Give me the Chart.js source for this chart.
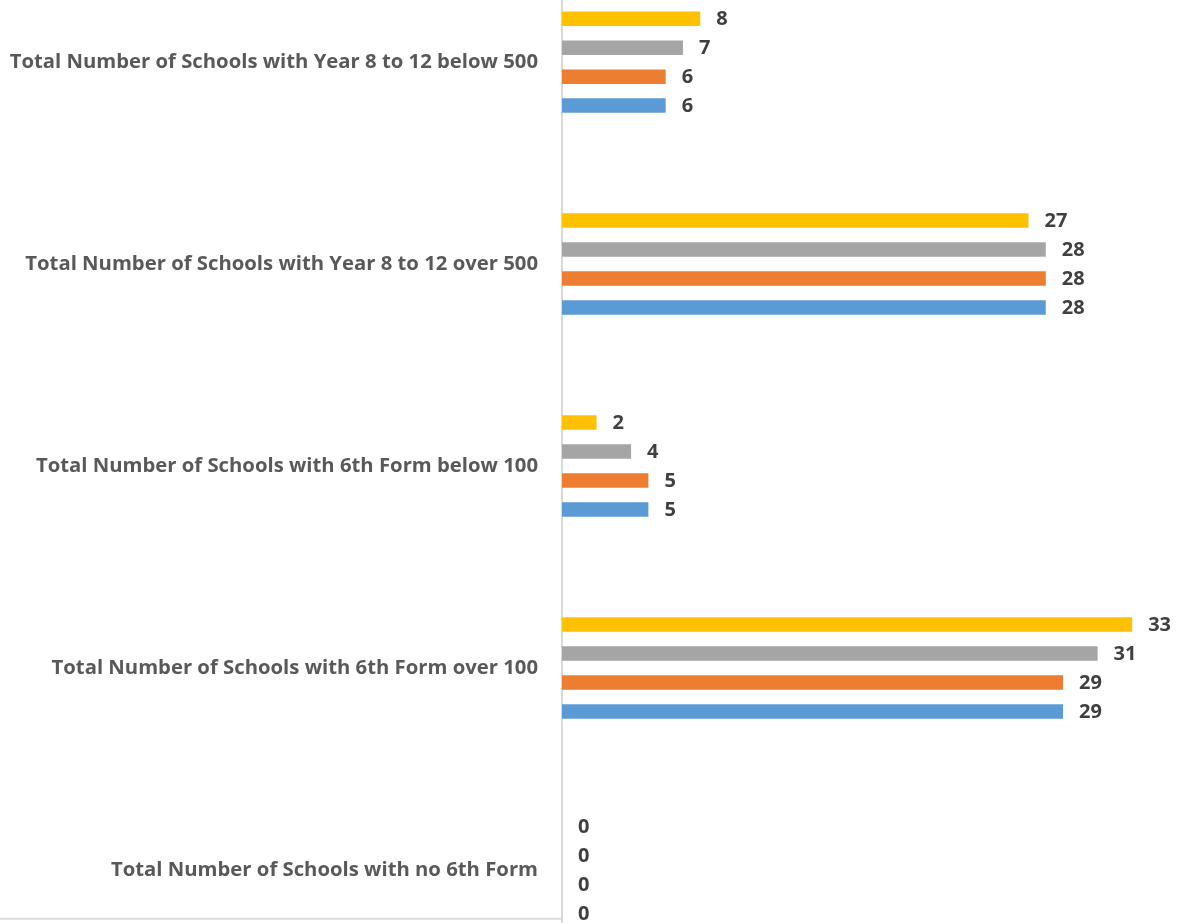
<!DOCTYPE html>
<html lang="en">
  <head>
    <title>Schools by size</title>
    <meta charset="utf-8">
    <script src="https://cdn.jsdelivr.net/npm/chart.js@4/dist/chart.umd.min.js"></script>
    <style>
      html, body { margin: 0; padding: 0; background: #fff; overflow: hidden; width: 1184px; height: 923px; }
      .chart-container { position: absolute; left: 0; top: -75px; width: 1184px; height: 1082px; }
    </style>
  </head>
  <body>
    <div class="chart-container">
        <canvas id="myChart1"></canvas>
    </div>
  <script>
    var categories = [
        'Total Number of Schools with Year 8 to 12 below 500',
        'Total Number of Schools with Year 8 to 12 over 500',
        'Total Number of Schools with 6th Form below 100',
        'Total Number of Schools with 6th Form over 100',
        'Total Number of Schools with no 6th Form'
    ];
    // series listed top to bottom inside each group
    var series4 = [8, 27, 2, 33, 0];
    var series3 = [7, 28, 4, 31, 0];
    var series2 = [6, 28, 5, 29, 0];
    var series1 = [6, 28, 5, 29, 0];

    var labelFont = '"Open Sans", sans-serif';

    // draws the value next to each bar, and the short line under the category labels
    var valueLabels = {
        id: 'valueLabels',
        afterDatasetsDraw: function(chart) {
            var ctx = chart.ctx;
            ctx.save();
            ctx.font = 'bold 20px ' + labelFont;
            ctx.fillStyle = '#404040';
            ctx.textAlign = 'left';
            ctx.textBaseline = 'middle';
            chart.data.datasets.forEach(function(ds, i) {
                chart.getDatasetMeta(i).data.forEach(function(bar, j) {
                    ctx.fillText(ds.data[j], bar.x + 16, bar.y + 1);
                });
            });
            var area = chart.chartArea;
            ctx.strokeStyle = '#d9d9d9';
            ctx.lineWidth = 2;
            ctx.beginPath();
            ctx.moveTo(0, area.bottom - 52);
            ctx.lineTo(area.left, area.bottom - 52);
            ctx.stroke();
            ctx.restore();
        }
    };

    var ctx = document.getElementById('myChart1').getContext('2d');
    var myChart1 = new Chart(ctx, {
        type: 'bar',
        data: {
            labels: categories,
            datasets: [{
                label: 'Series4',
                data: series4,
                backgroundColor: '#ffc000'
            }, {
                label: 'Series3',
                data: series3,
                backgroundColor: '#a5a5a5'
            }, {
                label: 'Series2',
                data: series2,
                backgroundColor: '#ed7d31'
            }, {
                label: 'Series1',
                data: series1,
                backgroundColor: '#5b9bd5'
            }]
        },
        options: {
            indexAxis: 'y',
            responsive: true,
            maintainAspectRatio: false,
            animation: false,
            categoryPercentage: 0.574,
            barPercentage: 0.5,
            layout: { padding: 0 },
            plugins: {
                legend: { display: false },
                tooltip: { enabled: false }
            },
            scales: {
                x: {
                    display: false,
                    min: 0,
                    max: 36
                },
                y: {
                    afterFit: function(scale) { scale.width = 562; },
                    grid: { display: false, drawTicks: false },
                    border: { display: true, color: '#d9d9d9', width: 2 },
                    ticks: {
                        padding: 24,
                        color: '#595959',
                        font: { family: labelFont, size: 20.3, weight: 'bold' }
                    }
                }
            }
        },
        plugins: [valueLabels]
    });
  </script>
  </body>
</html>
